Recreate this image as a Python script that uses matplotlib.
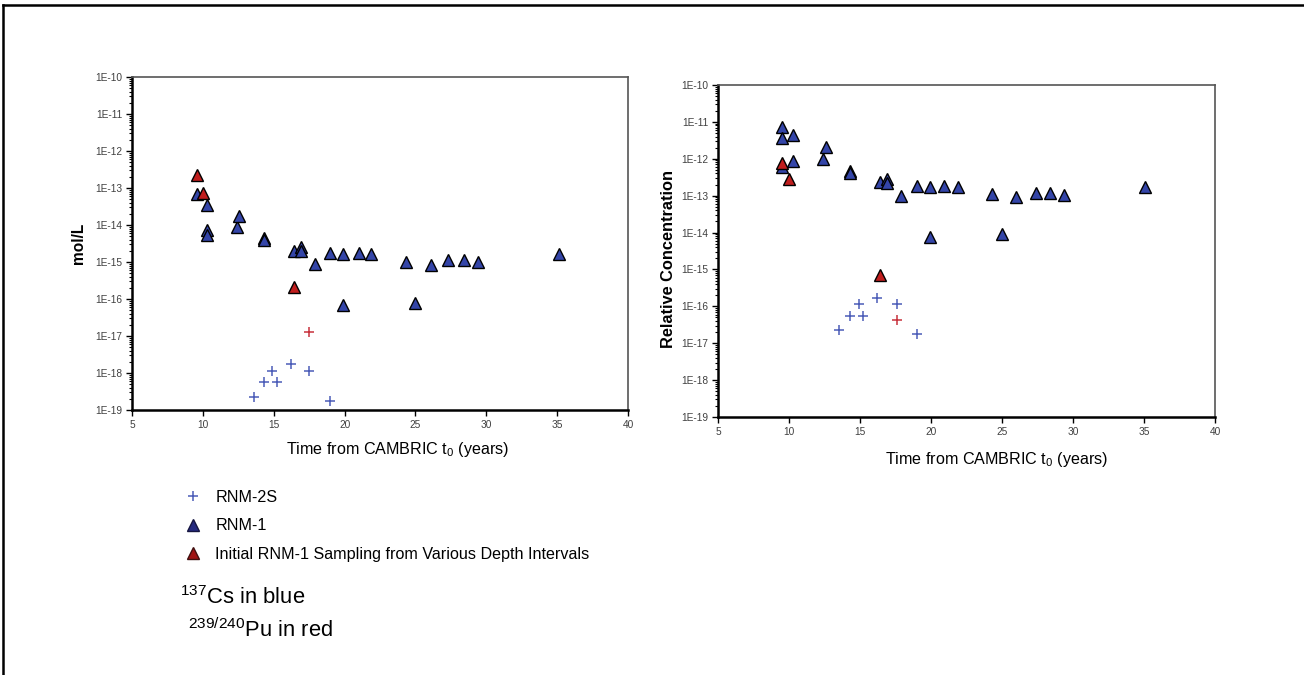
import numpy as np
import matplotlib
matplotlib.use('Agg')
import matplotlib.pyplot as plt
from matplotlib.lines import Line2D
from matplotlib.ticker import FixedLocator, LogLocator, FuncFormatter, NullFormatter

plt.rcParams['font.family'] = ['Liberation Sans', 'DejaVu Sans']
plt.rcParams['mathtext.fontset'] = 'custom'
plt.rcParams['mathtext.rm'] = 'Liberation Sans'
plt.rcParams['mathtext.it'] = 'Liberation Sans'

# ---- left panel: mol/L ----
rnm1_t = [9.6, 10.3, 10.3, 10.3, 12.4, 12.55, 14.3, 14.3, 16.4, 16.9, 16.9, 17.9,
          19.0, 19.9, 19.9, 21.0, 21.9, 24.3, 25.0, 26.1, 27.3, 28.4, 29.4, 35.1]
rnm1_mol = [7e-14, 3.5e-14, 7.5e-15, 5.5e-15, 9e-15, 1.8e-14, 4.5e-15, 4.0e-15, 2.0e-15,
            2.5e-15, 2.0e-15, 9e-16, 1.7e-15, 1.6e-15, 7e-17, 1.7e-15, 1.6e-15, 1.0e-15,
            8e-17, 8.5e-16, 1.1e-15, 1.1e-15, 1.0e-15, 1.6e-15]
init_t = [9.6, 10.0, 16.4]
init_mol = [2.3e-13, 7.5e-14, 2.1e-16]
rnm2s_t = [13.6, 14.3, 14.9, 15.2, 16.2, 17.5, 19.0]
rnm2s_mol = [2.3e-19, 5.6e-19, 1.1e-18, 5.6e-19, 1.7e-18, 1.1e-18, 1.7e-19]
rnm2s_pu_t = [17.5]
rnm2s_pu_mol = [1.3e-17]

# ---- right panel: relative concentration ----
rnm1_t_rel = [9.5, 9.5, 10.3, 9.5, 10.3, 12.4, 12.6, 14.3, 14.3, 16.4, 16.9, 16.9, 17.9,
              19.0, 19.9, 19.9, 20.95, 21.9, 24.3, 25.0, 26.0, 27.4, 28.4, 29.4, 35.1]
rnm1_rel = [7.3e-12, 3.7e-12, 4.3e-12, 6e-13, 8.7e-13, 1e-12, 2.1e-12, 4.8e-13, 4.2e-13,
            2.3e-13, 2.8e-13, 2.2e-13, 1e-13, 1.8e-13, 1.7e-13, 7.6e-15, 1.8e-13, 1.7e-13,
            1.1e-13, 9e-15, 9e-14, 1.2e-13, 1.2e-13, 1.05e-13, 1.7e-13]
init_t_rel = [9.5, 10.0, 16.4]
init_rel = [7.8e-13, 2.8e-13, 7e-16]
rnm2s_t_rel = [13.55, 14.3, 14.95, 15.2, 16.2, 17.6, 19.0]
rnm2s_rel = [2.3e-17, 5.6e-17, 1.15e-16, 5.6e-17, 1.7e-16, 1.15e-16, 1.8e-17]
rnm2s_pu_t_rel = [17.6]
rnm2s_pu_rel = [4.3e-17]

x_ticks = [5, 10, 15, 20, 25, 30, 35, 40]
y_ticks = [10.0 ** e for e in range(-19, -9)]

blue_tri = '#3445a8'
red_tri = '#c01e1e'
blue_cross = '#4b5cb8'
red_cross = '#c8323c'

W, H = 1304, 675


def sci_label(v, pos):
    return '1E%d' % int(round(np.log10(v)))


def style_axes(ax, ylabel, ylab_size, ylab_xy, xlab_xy):
    ax.set_yscale('log')
    ax.set_xlim(5, 40)
    ax.set_ylim(1e-19, 1e-10)
    ax.xaxis.set_major_locator(FixedLocator(x_ticks))
    ax.yaxis.set_major_locator(FixedLocator(y_ticks))
    ax.yaxis.set_minor_locator(LogLocator(base=10, subs=np.arange(2, 10), numticks=20))
    ax.yaxis.set_major_formatter(FuncFormatter(sci_label))
    ax.yaxis.set_minor_formatter(NullFormatter())
    ax.tick_params(axis='both', which='major', direction='out', length=4, width=1,
                   labelsize=7.3, labelcolor='#404040', pad=3)
    ax.tick_params(axis='y', which='minor', direction='out', length=2, width=0.8)
    for side in ['left', 'bottom']:
        ax.spines[side].set_linewidth(1.8)
        ax.spines[side].set_color('black')
    for side in ['top', 'right']:
        ax.spines[side].set_linewidth(1.2)
        ax.spines[side].set_color('#555555')
    ax.set_xlabel('Time from CAMBRIC t$_0$ (years)', fontsize=11.6)
    ax.xaxis.set_label_coords(*xlab_xy)
    ax.set_ylabel(ylabel, fontsize=ylab_size, fontweight='bold')
    ax.yaxis.set_label_coords(*ylab_xy)


def draw_points(ax, tri_t, tri_v, red_t, red_v, cr_t, cr_v, crr_t, crr_v):
    ax.plot(cr_t, cr_v, linestyle='none', marker='+', markersize=7, mew=1.1, color=blue_cross)
    ax.plot(crr_t, crr_v, linestyle='none', marker='+', markersize=7, mew=1.1, color=red_cross)
    ax.plot(tri_t, tri_v, linestyle='none', marker='^', markersize=8.5,
            markerfacecolor=blue_tri, markeredgecolor='black', mew=1.0)
    ax.plot(red_t, red_v, linestyle='none', marker='^', markersize=8.5,
            markerfacecolor=red_tri, markeredgecolor='black', mew=1.0)


fig = plt.figure(figsize=(13.04, 6.75), dpi=100)

# left panel box: x 132..628, y 77..410 (pixels)
ax1 = fig.add_axes([132 / W, 1 - 410 / H, 496 / W, 333 / H])
draw_points(ax1, rnm1_t, rnm1_mol, init_t, init_mol, rnm2s_t, rnm2s_mol, rnm2s_pu_t, rnm2s_pu_mol)
style_axes(ax1, 'mol/L', 11.2, ((86 - 132) / 496, (410 - 243) / 333),
           ((398 - 132) / 496, (410 - 440) / 333))

# right panel box: x 718..1215, y 85..417
ax2 = fig.add_axes([718 / W, 1 - 417 / H, 497 / W, 332 / H])
draw_points(ax2, rnm1_t_rel, rnm1_rel, init_t_rel, init_rel, rnm2s_t_rel, rnm2s_rel,
            rnm2s_pu_t_rel, rnm2s_pu_rel)
style_axes(ax2, 'Relative Concentration', 11.8, ((676 - 718) / 497, (417 - 259) / 332),
           ((997 - 718) / 497, (417 - 450) / 332))

# legend
handles = [
    Line2D([], [], linestyle='none', marker='+', markersize=7, mew=1.1, color=blue_cross),
    Line2D([], [], linestyle='none', marker='^', markersize=8, markerfacecolor='#252a80',
           markeredgecolor='#151540'),
    Line2D([], [], linestyle='none', marker='^', markersize=8, markerfacecolor='#a01515',
           markeredgecolor='#401010'),
]
labels = ['RNM-2S', 'RNM-1', 'Initial RNM-1 Sampling from Various Depth Intervals']
fig.legend(handles, labels, loc='upper left', bbox_to_anchor=(185 / W, 1 - 490 / H),
           frameon=False, fontsize=11.6, labelspacing=0.83, handlelength=1.0,
           handletextpad=0.87, borderpad=0, borderaxespad=0)

fig.text(180 / W, 1 - 604 / H, r'$^{137}$Cs in blue', fontsize=15.8, va='baseline')
fig.text(188 / W, 1 - 637 / H, r'$^{239/240}$Pu in red', fontsize=15.8, va='baseline')

# outer frame lines (top and left)
fig.add_artist(Line2D([3 / W, 1], [1 - 5 / H, 1 - 5 / H], color='black', lw=1.8,
                      transform=fig.transFigure))
fig.add_artist(Line2D([3 / W, 3 / W], [0, 1 - 5 / H], color='black', lw=1.8,
                      transform=fig.transFigure))

fig.savefig('out.png', dpi=100)
